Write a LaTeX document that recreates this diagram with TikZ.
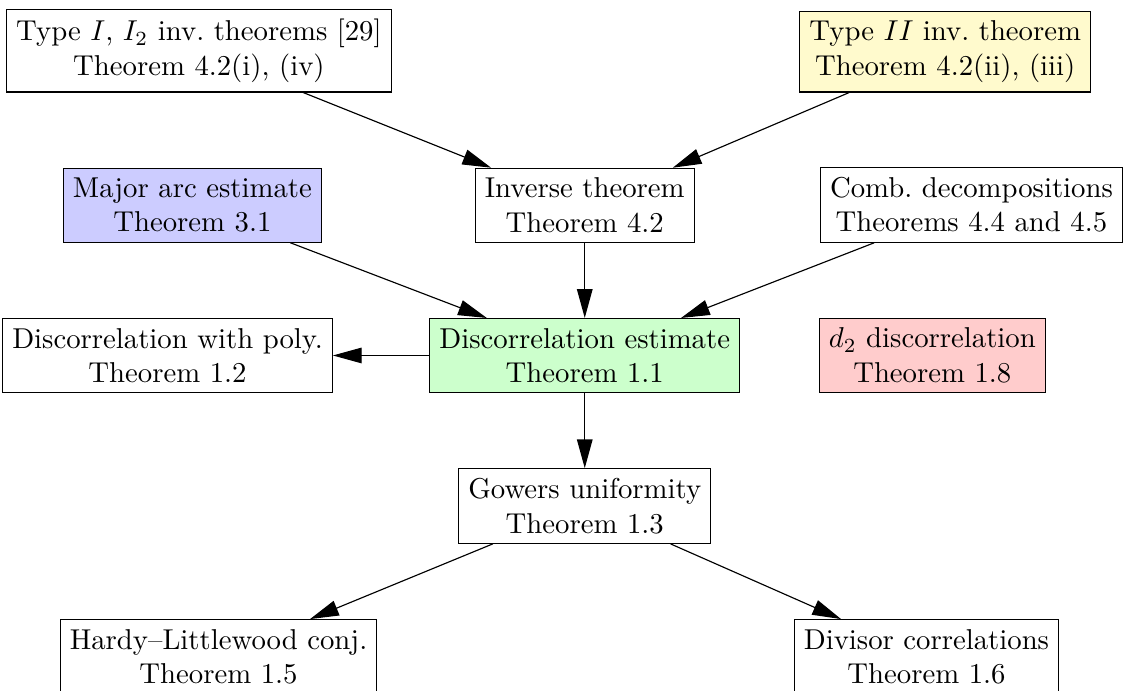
\documentclass[tikz,border=0pt]{standalone}
\usetikzlibrary{positioning,arrows.meta,calc}
\definecolor{bluefill}{RGB}{204,204,255}
\definecolor{greenfill}{RGB}{204,255,204}
\definecolor{redfill}{RGB}{255,204,204}
\definecolor{yellowfill}{RGB}{255,250,205}
\begin{document}
\begin{tikzpicture}[thm/.style = {draw, align=center}, node distance=0.92cm,
                    dep/.style = {-{Triangle[length=10pt,width=5.4pt]}}]
                        \node[thm, fill=greenfill] (disc) {Discorrelation estimate\\Theorem 1.1};
                        \node[thm] (inv) [above=of disc] {Inverse theorem\\Theorem 4.2};
                        \node[thm] (gowers) [below=of disc] {Gowers uniformity\\Theorem 1.3};
                        \node[thm] (poly) [left=1.18cm of disc] {Discorrelation with poly.\\Theorem 1.2};
                        \node[thm, fill=redfill] (dtwo) [right=0.96cm of disc] {$d_2$ discorrelation\\Theorem 1.8};
                        \node[thm, fill=bluefill] (major) [above=of disc, xshift=-4.80cm] {Major arc estimate\\Theorem 3.1};
                        \node[thm] (comb) [above=of disc, xshift=4.73cm] {Comb.\ decompositions\\Theorems 4.4 and 4.5};
                        \node[thm] (typeone) [above=of inv, xshift=-4.72cm] {Type $I$, $I_2$ inv.\ theorems [29]\\Theorem 4.2(i), (iv)};
                        \node[thm, fill=yellowfill] (typetwo) [above=of inv, xshift=4.41cm] {Type $II$ inv.\ theorem\\Theorem 4.2(ii), (iii)};
                        \node[thm] (hardy) [below=of gowers, xshift=-4.48cm] {Hardy--Littlewood conj.\\Theorem 1.5};
                        \node[thm] (divisor) [below=of gowers, xshift=4.18cm] {Divisor correlations\\Theorem 1.6};

                        \draw[dep] (typeone) -- (inv);
                        \draw[dep] (typetwo) -- (inv);
                        \draw[dep] (inv) -- (disc);
                        \draw[dep] (major) -- (disc);
                        \draw[dep] (comb) -- (disc);
                        \draw[dep] (disc) -- (poly);
                        \draw[dep] (disc) -- (gowers);
                        \draw[dep] (gowers) -- (hardy);
                        \draw[dep] (gowers) -- (divisor);

                        \pgfresetboundingbox
                        \path[use as bounding box] ($(typeone.north west)+(-0.074,0.11)$) rectangle ($(comb.east |- hardy.south)+(0,0.05)$);
                    \end{tikzpicture}
\end{document}
